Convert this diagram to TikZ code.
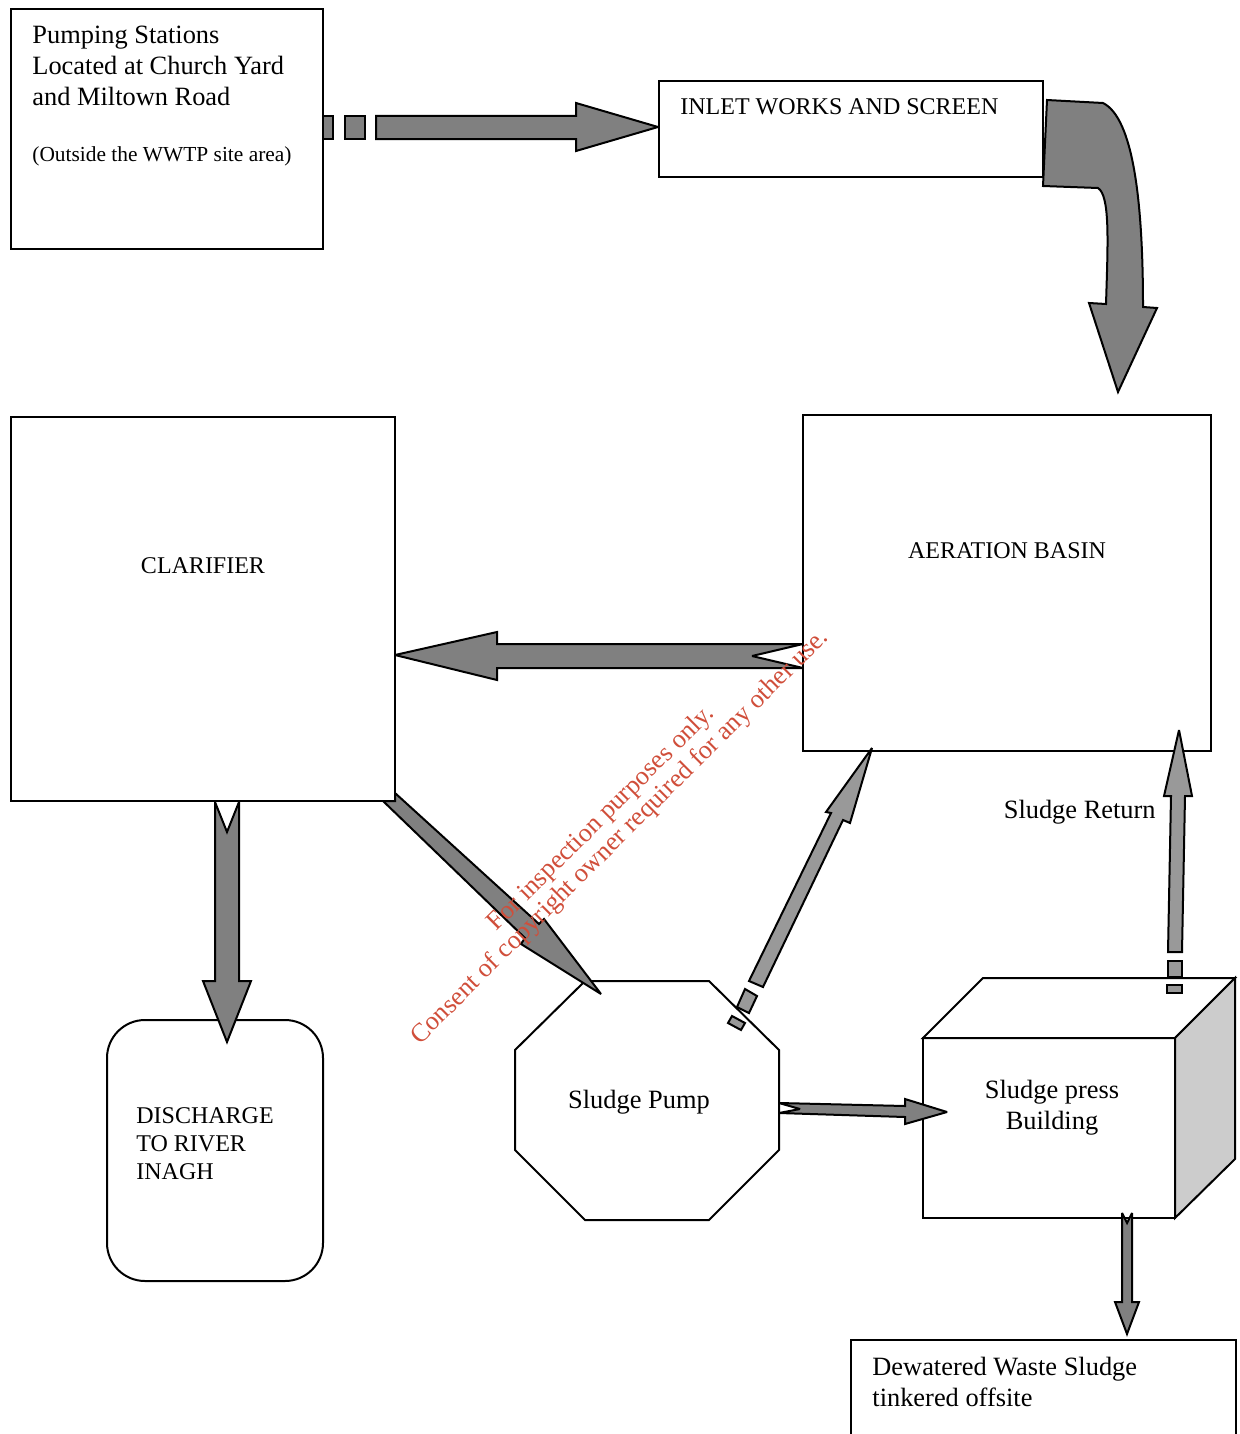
\documentclass[tikz,border=0pt]{standalone}
\usepackage{fontspec}
\setmainfont{Liberation Serif}
\definecolor{arrowgray}{RGB}{128,128,128}
\definecolor{lightarrow}{RGB}{153,153,153}
\definecolor{sidegray}{RGB}{204,204,204}
\definecolor{wmred}{RGB}{208,78,58}
\tikzset{
  box/.style={draw=black, line width=1pt, fill=white, line join=miter},
  blockarrow/.style={draw=black, line width=1pt, fill=arrowgray, line join=miter, miter limit=3},
  lightblock/.style={blockarrow, fill=lightarrow},
  txt/.style={inner sep=0pt, font=\fontsize{13.2}{15.5}\selectfont, text=black},
  smalltxt/.style={inner sep=0pt, font=\fontsize{10.7}{13}\selectfont, text=black},
  capstxt/.style={inner sep=0pt, font=\fontsize{12}{14}\selectfont, text=black},
  wm/.style={inner sep=0pt, align=center, text=wmred, font=\fontsize{13.1}{13.2}\selectfont}
}
\begin{document}
\begin{tikzpicture}[x=0.5pt, y=-0.5pt]
\useasboundingbox (0,0) rectangle (1239,1434);

% ---- boxes ----
\draw[box] (11,9) rectangle (323,249);
\draw[box] (659,81) rectangle (1043,177);
\draw[box] (803,415) rectangle (1211,751);
\draw[box, rounded corners=19pt] (107,1020) rectangle (323,1281);
\draw[box] (515,1050) -- (585,981) -- (709,981) -- (779,1050) -- (779,1150) -- (709,1220) -- (585,1220) -- (515,1150) -- cycle;
% cube
\draw[box] (923,1038) rectangle (1175,1218);
\draw[box] (923,1038) -- (983,978) -- (1235,978) -- (1175,1038) -- cycle;
\draw[box, fill=sidegray] (1175,1038) -- (1235,978) -- (1235,1159) -- (1175,1218) -- cycle;
% dewatered box (cut at bottom)
\draw[box] (851,1434) -- (851,1340) -- (1236,1340) -- (1236,1434);

% diagonal arrow clarifier -> sludge pump (tail hidden under clarifier)
\draw[blockarrow] (395,793) -- (539,924) -- (544,919) -- (601,994) -- (521,944) -- (525,938) -- (383,801) -- (395,801) -- cycle;
\draw[box] (11,417) rectangle (395,801);

% ---- texts ----
\node[txt, anchor=base west] (p1) at (32,44) {Pumping Stations};
\node[txt, anchor=base west] (p2) at (32,75) {Located at Church Yard};
\node[txt, anchor=base west] (p3) at (32,105) {and Miltown Road};
\node[smalltxt, anchor=base west] (p4) at (32,162) {(Outside the WWTP site area)};
\node[capstxt, anchor=base west] (inlet) at (680,114) {INLET WORKS AND SCREEN};
\node[capstxt, anchor=base] (clar) at (203,573) {CLARIFIER};
\node[capstxt, anchor=base] (aer) at (1007,558) {AERATION BASIN};
\node[capstxt, anchor=base west] (d1) at (136,1123) {DISCHARGE};
\node[capstxt, anchor=base west] (d2) at (136,1151) {TO RIVER};
\node[capstxt, anchor=base west] (d3) at (136,1179) {INAGH};
\node[txt, anchor=base] (pumpt) at (639,1108) {Sludge Pump};
\node[txt, anchor=base east] (ret) at (1156,818) {Sludge Return};
\node[txt, anchor=base] (sp1) at (1052,1098) {Sludge press};
\node[txt, anchor=base] (sp2) at (1052,1129) {Building};
\node[txt, anchor=base west] (dw1) at (872,1375) {Dewatered Waste Sludge};
\node[txt, anchor=base west] (dw2) at (872,1406) {tinkered offsite};

% ---- arrows ----
% pumping stations -> inlet (dashed tail)
\draw[blockarrow] (323,116) rectangle (333,139);
\draw[blockarrow] (345,116) rectangle (365,139);
\draw[blockarrow] (376,116) -- (576,116) -- (576,103) -- (658,127) -- (576,151) -- (576,139) -- (376,139) -- cycle;
% inlet -> aeration (curved)
\draw[blockarrow] (1047,100) -- (1103,103) .. controls (1133,118) and (1143,200) .. (1143,307) -- (1157,308) -- (1118,392) -- (1089,303) -- (1106,304) .. controls (1108,240) and (1110,196) .. (1098,188) -- (1043,186) -- cycle;
% aeration -> clarifier
\draw[blockarrow] (803,644) -- (497,644) -- (497,632) -- (395,655) -- (497,680) -- (497,668) -- (803,668) -- (752,656) -- cycle;
% clarifier -> discharge
\draw[blockarrow] (215,802) -- (227,832) -- (239,802) -- (239,981) -- (251,981) -- (227,1042) -- (203,981) -- (215,981) -- cycle;
% sludge pump -> aeration
\draw[lightblock] (872,748) -- (850,823) -- (843,820) -- (763,987) -- (749,981) -- (831,813) -- (826,812) -- cycle;
\draw[lightblock] (745,989) -- (757,996) -- (749,1013) -- (737,1007) -- cycle;
\draw[lightblock] (732,1016) -- (745,1023) -- (741,1030) -- (728,1023) -- cycle;
% sludge press -> aeration (sludge return)
\draw[lightblock] (1179,730) -- (1192,796) -- (1185,796) -- (1182,952) -- (1168,952) -- (1171,796) -- (1164,796) -- cycle;
\draw[lightblock] (1168,961) rectangle (1182,977);
\draw[lightblock] (1167,985) rectangle (1182,993);
% sludge pump -> sludge press
\draw[blockarrow] (779,1103) -- (905,1106) -- (905,1099) -- (947,1112) -- (905,1124) -- (905,1117) -- (779,1113) -- (800,1109) -- cycle;
% sludge press -> dewatered
\draw[blockarrow] (1122,1213) -- (1127,1223) -- (1132,1213) -- (1132,1302) -- (1139,1302) -- (1127,1334) -- (1115,1302) -- (1122,1302) -- cycle;

% ---- watermark ----
\node[wm, rotate=44.8] (wmark) at (611,828) {For inspection purposes only.\\Consent of copyright owner required for any other use.};
\end{tikzpicture}
\end{document}
